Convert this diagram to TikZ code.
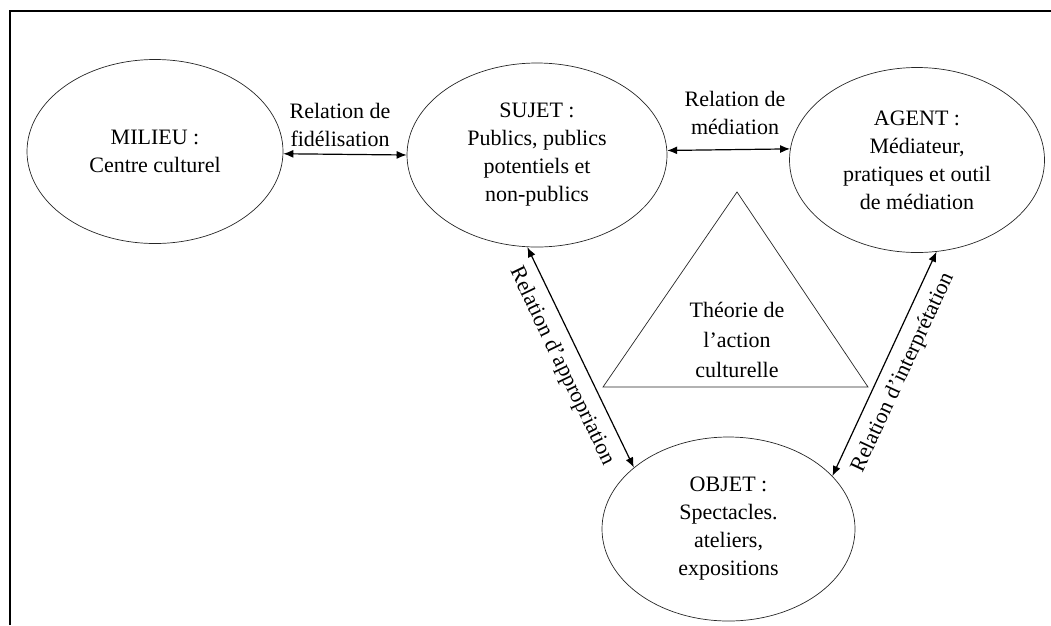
\documentclass[tikz,border=0pt]{standalone}
\usepackage{fontspec}
\setmainfont{Liberation Serif}
\usetikzlibrary{arrows.meta,shapes,calc}

\begin{document}
\begin{tikzpicture}[x=1pt, y=-1pt, >={Latex[length=10pt, width=8pt]},
    pole/.style={ellipse, draw=black!85, line width=0.7pt, inner sep=0pt, align=center,
                 minimum width=256pt, minimum height=184pt},
    rel/.style={<->, line width=1.2pt},
    lbl/.style={align=center, inner sep=0pt}]
  \useasboundingbox (0,0) rectangle (1051,625);
  \fontsize{22}{28}\selectfont

  % cadre
  \draw[line width=1.6pt] (10,625) -- (10,11) -- (1051,11);

  \node[pole] (milieu) at (155,151.5) {MILIEU :\\Centre culturel};
  \node[pole, minimum width=260pt] (sujet) at (537,155) {SUJET :\\Publics, publics\\potentiels et\\non-publics};
  \node[pole, minimum width=255pt, minimum height=185pt] (agent) at (917,160) {AGENT :\\M\'ediateur,\\pratiques et outil\\de m\'ediation};
  \node[pole, minimum width=253pt] (objet) at (728.5,529) {OBJET :\\Spectacles.\\ateliers,\\expositions};

  \draw[line width=0.7pt, draw=black!85] (737,192) -- (868,387) -- (603,387) -- cycle;
  \node[lbl, font=\fontsize{22}{30}\selectfont] (theorie) at (737,340) {Th\'eorie de\\l'action\\culturelle};

  \node[lbl] (fidel) at (340,125) {Relation de\\fid\'elisation};
  \node[lbl] (media) at (735,113) {Relation de\\m\'ediation};

  \draw[rel] (milieu.-1.6) -- (sujet.west);
  \draw[rel] (sujet.2.2) -- (agent.175.5);
  \draw[rel] (sujet.-96) -- (objet.147)
    node[midway, sloped, below=10pt, inner sep=0pt] (appro) {Relation d'appropriation};
  \draw[rel] (objet.27) -- (agent.-78)
    node[midway, sloped, below=10pt, inner sep=0pt] (interp) {Relation d'interpr\'etation};
\end{tikzpicture}
\end{document}
